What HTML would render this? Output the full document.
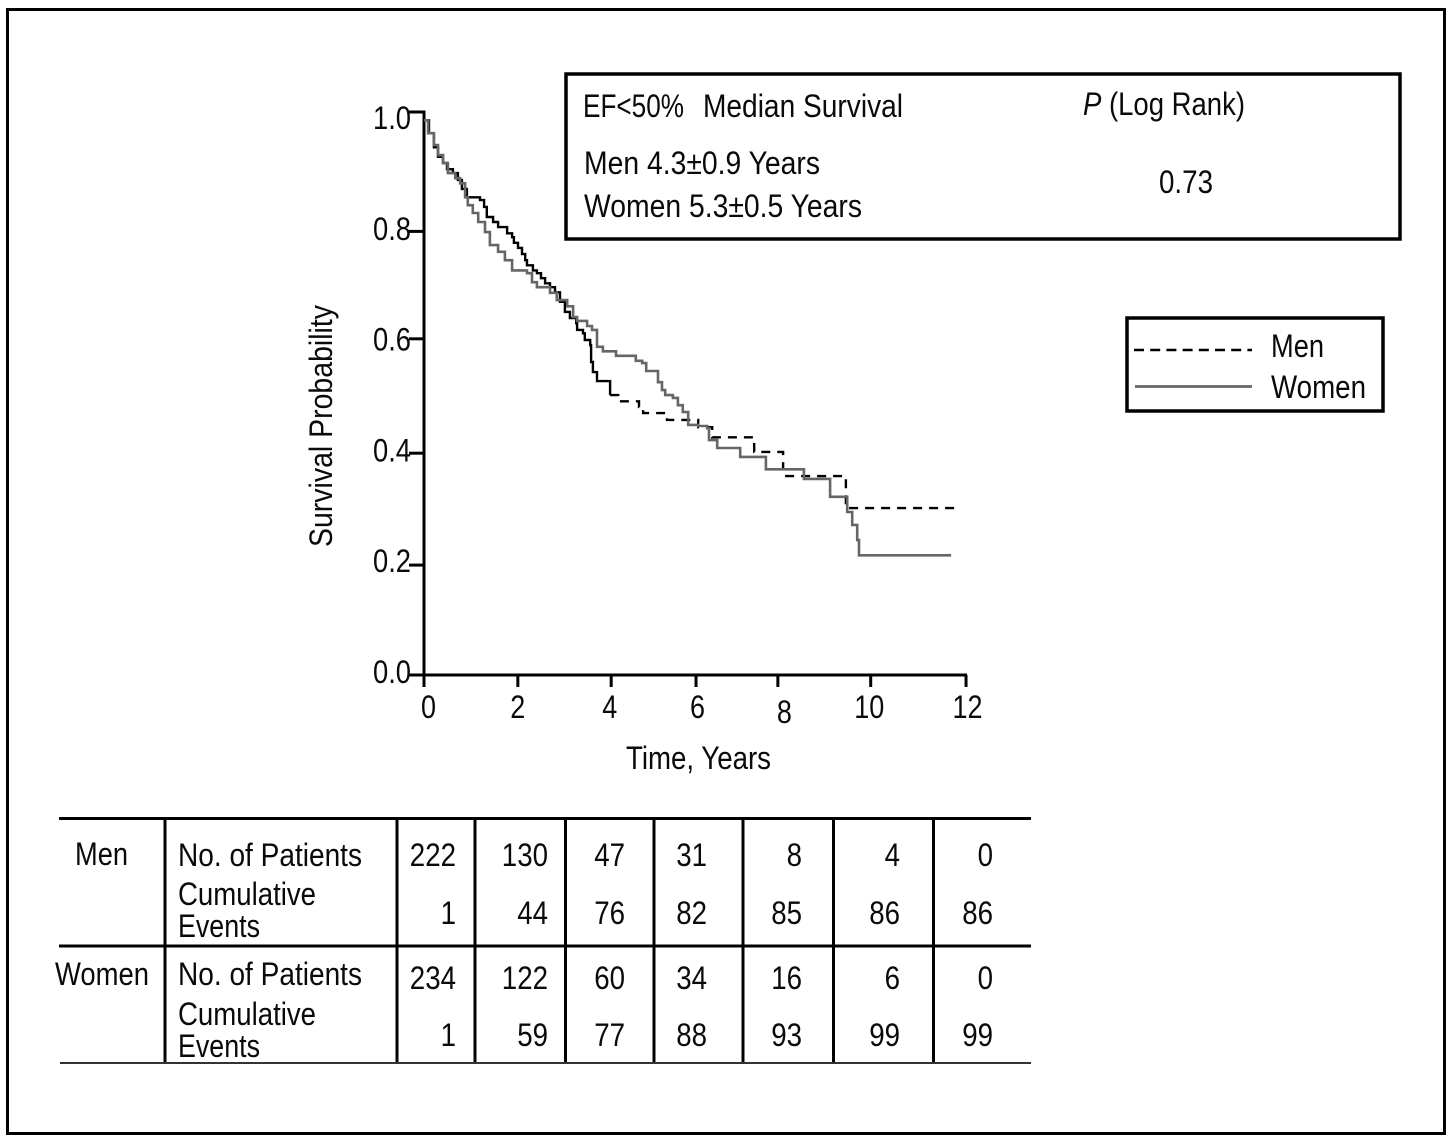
<!DOCTYPE html>
<html lang="en">
<head>
<meta charset="utf-8">
<title>Survival Probability by Sex, EF&lt;50%</title>
<style>
html,body{margin:0;padding:0;background:#fff;}
svg{display:block;}
text{font-family:"Liberation Sans",sans-serif;font-size:32px;fill:#0a0a0a;}
</style>
</head>
<body>
<svg id="fig" xmlns="http://www.w3.org/2000/svg" width="1453" height="1144" viewBox="0 0 1453 1144">
  <rect x="0" y="0" width="1453" height="1144" fill="#fff"/>
  <rect x="7.5" y="9.5" width="1437" height="1124" fill="none" stroke="#000" stroke-width="3"/>

  <g>
    <rect x="566" y="74" width="834" height="165" fill="none" stroke="#000" stroke-width="3.5"/>
    <text x="583" y="117" textLength="101" lengthAdjust="spacingAndGlyphs">EF&lt;50%</text>
    <text x="703" y="117" textLength="200" lengthAdjust="spacingAndGlyphs">Median Survival</text>
    <text x="584" y="174" textLength="236" lengthAdjust="spacingAndGlyphs">Men 4.3±0.9 Years</text>
    <text x="584" y="217" textLength="278" lengthAdjust="spacingAndGlyphs">Women 5.3±0.5 Years</text>
    <text x="1083" y="115" textLength="162" lengthAdjust="spacingAndGlyphs"><tspan font-style="italic">P</tspan> (Log Rank)</text>
    <text x="1159" y="193" textLength="54" lengthAdjust="spacingAndGlyphs">0.73</text>
  </g>

  <g>
    <rect x="1127" y="318" width="256" height="93" fill="none" stroke="#000" stroke-width="3.5"/>
    <line x1="1134" y1="350" x2="1252" y2="350" stroke="#000" stroke-width="2.5" stroke-dasharray="10 6.2"/>
    <line x1="1135" y1="386.5" x2="1252" y2="386.5" stroke="#666" stroke-width="2.8"/>
    <text x="1271" y="357" textLength="53" lengthAdjust="spacingAndGlyphs">Men</text>
    <text x="1271" y="398" textLength="95" lengthAdjust="spacingAndGlyphs">Women</text>
  </g>

  <g id="plot"></g>

  <text x="332" y="547" transform="rotate(-90 332 547)" textLength="242" lengthAdjust="spacingAndGlyphs">Survival Probability</text>
  <text x="626" y="769" textLength="145" lengthAdjust="spacingAndGlyphs">Time, Years</text>

  <g>
    <line x1="59" y1="818.5" x2="1031" y2="818.5" stroke="#000" stroke-width="3"/>
    <line x1="59" y1="946" x2="1031" y2="946" stroke="#000" stroke-width="3"/>
    <line x1="60" y1="1063" x2="1031" y2="1063" stroke="#333" stroke-width="2"/>
    <text x="75" y="865" textLength="53" lengthAdjust="spacingAndGlyphs">Men</text>
    <text x="178" y="866" textLength="184" lengthAdjust="spacingAndGlyphs">No. of Patients</text>
    <text x="178" y="905" textLength="138" lengthAdjust="spacingAndGlyphs">Cumulative</text>
    <text x="178" y="937" textLength="82" lengthAdjust="spacingAndGlyphs">Events</text>
    <text x="55" y="985" textLength="94" lengthAdjust="spacingAndGlyphs">Women</text>
    <text x="178" y="985" textLength="184" lengthAdjust="spacingAndGlyphs">No. of Patients</text>
    <text x="178" y="1025" textLength="138" lengthAdjust="spacingAndGlyphs">Cumulative</text>
    <text x="178" y="1057" textLength="82" lengthAdjust="spacingAndGlyphs">Events</text>
    <g id="table-lines">
      <line x1="165" y1="818" x2="165" y2="1062" stroke="#000" stroke-width="3"/>
      <line x1="397" y1="818" x2="397" y2="1062" stroke="#000" stroke-width="3"/>
      <line x1="475" y1="818" x2="475" y2="1062" stroke="#000" stroke-width="3"/>
      <line x1="565.500" y1="818" x2="565.500" y2="1062" stroke="#000" stroke-width="3"/>
      <line x1="654" y1="818" x2="654" y2="1062" stroke="#000" stroke-width="3"/>
      <line x1="743" y1="818" x2="743" y2="1062" stroke="#000" stroke-width="3"/>
      <line x1="833.500" y1="818" x2="833.500" y2="1062" stroke="#000" stroke-width="3"/>
      <line x1="933.500" y1="818" x2="933.500" y2="1062" stroke="#000" stroke-width="3"/>
    </g>
    <g id="table-values"></g>
  </g>
</svg>

<script>
// Chart data
const xTickValues = [0, 2, 4, 6, 8, 10, 12];
const yTickValues = [0, 0.2, 0.4, 0.6, 0.8, 1.0];

const menTime = [0, 0.11, 0.22, 0.31, 0.42, 0.51, 0.64, 0.75, 0.84, 0.95, 1.24, 1.33, 1.39, 1.53, 1.64, 1.84, 1.95, 1.99, 2.08, 2.17, 2.24, 2.28, 2.41, 2.50, 2.59, 2.68, 2.79, 2.90, 3.01, 3.12, 3.23, 3.37, 3.39, 3.52, 3.56, 3.68, 3.70, 3.74, 3.83, 4.12, 4.30, 4.76, 4.85, 5.38, 6.07, 6.38, 7.31, 7.95, 8.02, 9.34, 11.80];
const menSurvival = [0.987, 0.964, 0.939, 0.922, 0.911, 0.900, 0.893, 0.881, 0.865, 0.850, 0.845, 0.833, 0.815, 0.806, 0.797, 0.786, 0.779, 0.769, 0.760, 0.749, 0.738, 0.729, 0.720, 0.715, 0.706, 0.697, 0.690, 0.681, 0.664, 0.646, 0.635, 0.626, 0.614, 0.608, 0.596, 0.587, 0.557, 0.539, 0.523, 0.498, 0.487, 0.477, 0.466, 0.454, 0.441, 0.423, 0.397, 0.366, 0.354, 0.297, 0.297];

const womenTime = [0, 0.09, 0.22, 0.31, 0.42, 0.53, 0.69, 0.80, 0.91, 0.97, 1.08, 1.20, 1.35, 1.46, 1.64, 1.79, 1.95, 2.28, 2.39, 2.50, 2.79, 2.94, 3.17, 3.30, 3.39, 3.61, 3.72, 3.83, 3.96, 4.25, 4.69, 4.83, 4.92, 5.18, 5.27, 5.34, 5.51, 5.62, 5.73, 5.85, 6.07, 6.27, 6.31, 6.49, 7.00, 7.57, 8.41, 8.99, 9.37, 9.48, 9.59, 9.63, 11.67];
const womenSurvival = [0.987, 0.964, 0.943, 0.925, 0.911, 0.893, 0.884, 0.875, 0.850, 0.836, 0.822, 0.806, 0.788, 0.765, 0.753, 0.738, 0.720, 0.715, 0.699, 0.690, 0.680, 0.667, 0.656, 0.637, 0.630, 0.621, 0.614, 0.584, 0.576, 0.568, 0.559, 0.555, 0.541, 0.521, 0.507, 0.498, 0.493, 0.480, 0.468, 0.445, 0.443, 0.439, 0.418, 0.404, 0.388, 0.366, 0.349, 0.317, 0.290, 0.267, 0.240, 0.213, 0.213];

// Time after which the printed men curve reads as a broken line
const menDashStart = 4.12;

// Numbers-at-risk table
const menPatients = [222, 130, 47, 31, 8, 4, 0];
const menEvents = [1, 44, 76, 82, 85, 86, 86];
const womenPatients = [234, 122, 60, 34, 16, 6, 0];
const womenEvents = [1, 59, 77, 88, 93, 99, 99];

const SVG_NS = 'http://www.w3.org/2000/svg';
const plot = document.getElementById('plot');
const tableValues = document.getElementById('table-values');

function x(t) { return 424 + t * 45.17; }
function y(s) { return 675 - s * 562; }
function yLabel(s) { return 683 - s * 554; }

// The printed axes are hand-assembled, so each tick sits slightly off the true scale
function xTickShift(v) {
  if (v === 2) return 3.5;
  if (v === 4) return 6.5;
  if (v === 6) return 1;
  if (v === 8) return -7.5;
  if (v === 10) return -5;
  return 0;
}
function xLabelShift(v) {
  if (v === 0) return 4.5;
  if (v === 2) return 3.5;
  if (v === 4) return 5;
  if (v === 6) return 2.5;
  if (v === 8) return -1;
  if (v === 10) return -6.5;
  return 1.5;
}
function yTickShift(v) {
  if (v === 0.2) return 2.5;
  if (v === 0.4) return 3;
  if (v === 0.6) return 1;
  if (v === 0.8) return 6;
  if (v === 1) return -1;
  return 0;
}

function svgEl(tag, parent) {
  const el = document.createElementNS(SVG_NS, tag);
  parent.appendChild(el);
  return el;
}

function stepPath(times, values) {
  let d = '';
  for (let i = 0; i < times.length; i++) {
    if (i === 0) {
      d += 'M' + x(times[i]).toFixed(1) + ' ' + y(values[i]).toFixed(1);
    } else {
      d += 'H' + x(times[i]).toFixed(1) + 'V' + y(values[i]).toFixed(1);
    }
  }
  return d;
}

// Axes
const yAxis = svgEl('line', plot);


yAxis.setAttribute('x1', x(0));
yAxis.setAttribute('x2', x(0));
yAxis.setAttribute('y1', y(1) - 2.5);
yAxis.setAttribute('y2', y(0) + 1.5);
yAxis.setAttribute('stroke', '#000');
yAxis.setAttribute('stroke-width', '3');

const xAxis = svgEl('line', plot);


xAxis.setAttribute('x1', x(0));
xAxis.setAttribute('x2', x(12) + 1);
xAxis.setAttribute('y1', y(0));
xAxis.setAttribute('y2', y(0));
xAxis.setAttribute('stroke', '#000');
xAxis.setAttribute('stroke-width', '3');

yTickValues.forEach(function (v) {
  const tick = svgEl('line', plot);
  
  
  tick.setAttribute('x1', x(0) - 15);
  tick.setAttribute('x2', x(0));
  tick.setAttribute('y1', y(v) + yTickShift(v));
  tick.setAttribute('y2', y(v) + yTickShift(v));
  tick.setAttribute('stroke', '#000');
  tick.setAttribute('stroke-width', '3');

  const label = svgEl('text', plot);
  
  
  label.setAttribute('x', x(0) - 51);
  label.setAttribute('y', yLabel(v));
  label.setAttribute('textLength', '38');
  label.setAttribute('lengthAdjust', 'spacingAndGlyphs');
  label.textContent = v.toFixed(1);
});

xTickValues.forEach(function (v) {
  const tick = svgEl('line', plot);
  
  
  tick.setAttribute('x1', x(v) + xTickShift(v));
  tick.setAttribute('x2', x(v) + xTickShift(v));
  tick.setAttribute('y1', y(0));
  tick.setAttribute('y2', y(0) + 12);
  tick.setAttribute('stroke', '#000');
  tick.setAttribute('stroke-width', '3');

  const label = svgEl('text', plot);
  const txt = String(v);
  const w = txt.length * 15;
  
  
  label.setAttribute('x', (x(v) + xLabelShift(v) - w / 2).toFixed(1));
  label.setAttribute('y', v === 8 ? 723 : 718);
  label.setAttribute('textLength', w);
  label.setAttribute('lengthAdjust', 'spacingAndGlyphs');
  label.textContent = txt;
});

// Series: the men curve is split where it turns broken
const dashIndex = menTime.findIndex(function (t) { return t >= menDashStart; });

const menSolid = svgEl('path', plot);


menSolid.setAttribute('d', stepPath(menTime.slice(0, dashIndex + 1), menSurvival.slice(0, dashIndex + 1)));
menSolid.setAttribute('fill', 'none');
menSolid.setAttribute('stroke', '#000');
menSolid.setAttribute('stroke-width', '2.4');

const menDashed = svgEl('path', plot);


menDashed.setAttribute('d', stepPath(menTime.slice(dashIndex), menSurvival.slice(dashIndex)));
menDashed.setAttribute('fill', 'none');
menDashed.setAttribute('stroke', '#000');
menDashed.setAttribute('stroke-width', '2.4');
menDashed.setAttribute('stroke-dasharray', '9 7');

const women = svgEl('path', plot);


women.setAttribute('d', stepPath(womenTime, womenSurvival));
women.setAttribute('fill', 'none');
women.setAttribute('stroke', '#666');
women.setAttribute('stroke-width', '2.6');

// Table values, right-aligned to each column
const columnRight = [456, 548, 625, 707, 802, 900, 993];
const rows = [
  { values: menPatients, baseline: 866 },
  { values: menEvents, baseline: 924 },
  { values: womenPatients, baseline: 989 },
  { values: womenEvents, baseline: 1046 }
];
rows.forEach(function (row) {
  row.values.forEach(function (value, i) {
    const txt = String(value);
    const w = txt.length * 15.4;
    const cell = svgEl('text', tableValues);
    
    
    cell.setAttribute('x', (columnRight[i] - w).toFixed(1));
    cell.setAttribute('y', row.baseline);
    cell.setAttribute('textLength', w.toFixed(1));
    cell.setAttribute('lengthAdjust', 'spacingAndGlyphs');
    cell.textContent = txt;
  });
});
</script>
</body>
</html>
